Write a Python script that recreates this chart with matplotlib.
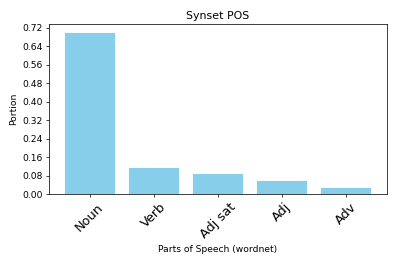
import matplotlib
matplotlib.use('Agg')
import matplotlib.pyplot as plt

pos_labels = ['Noun', 'Verb', 'Adj sat', 'Adj', 'Adv']
portions = [0.700, 0.117, 0.090, 0.062, 0.029]

s = 0.66  # scale of the original render

fig = plt.figure(figsize=(3.97, 2.64), dpi=100)
ax = fig.add_axes([0.123, 0.265, 0.851, 0.643])

ax.bar(pos_labels, portions, color='skyblue', edgecolor='white', linewidth=1.0 * s)

ax.set_yticks([i * 0.08 for i in range(10)])
ax.set_yticklabels(['{:.2f}'.format(i * 0.08) for i in range(10)])
ax.tick_params(axis='y', labelsize=10 * s, width=0.8 * s, length=3.5 * s, pad=3.5 * s)
ax.tick_params(axis='x', labelsize=14 * s, width=0.8 * s, length=3.5 * s, pad=3.5 * s)
plt.setp(ax.get_xticklabels(), rotation=45)

for sp in ax.spines.values():
    sp.set_linewidth(0.8 * s)

ax.set_title('Synset POS', fontsize=12 * s, pad=6 * s)
ax.set_xlabel('Parts of Speech (wordnet)', fontsize=10 * s, labelpad=4 * s)
ax.set_ylabel('Portion', fontsize=10 * s, labelpad=4 * s)

fig.savefig('out.png', dpi=100)
